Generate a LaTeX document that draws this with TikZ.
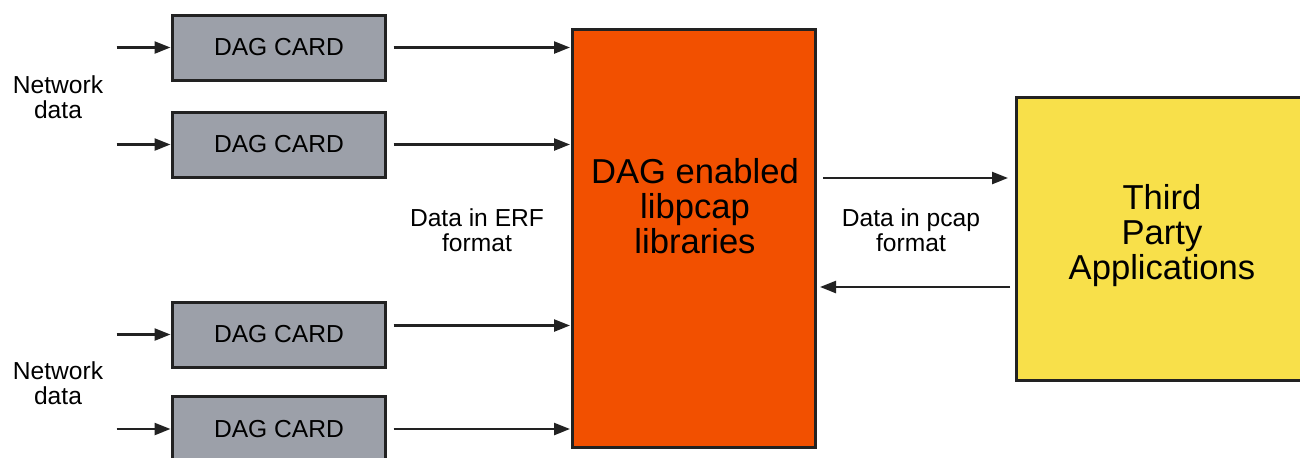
\documentclass[tikz,border=0pt]{standalone}
\usepackage{fontspec}
\setmainfont{Liberation Sans}
\usetikzlibrary{arrows.meta}
\definecolor{cardgray}{HTML}{9CA0A9}
\definecolor{liborange}{HTML}{F25000}
\definecolor{appyellow}{HTML}{F8E04A}
\definecolor{edge}{HTML}{222222}
\tikzset{
  card/.style={draw=edge, line width=1.5pt, fill=cardgray, minimum width=106.5pt, minimum height=32.5pt, inner sep=0pt, outer sep=0pt, font=\fontsize{12.3}{12.5}\selectfont},
  bigbox/.style={draw=edge, line width=1.5pt, inner sep=0pt, outer sep=0pt},
  small/.style={align=center, font=\fontsize{12.3}{12.5}\selectfont, inner sep=0pt},
  big/.style={align=center, font=\fontsize{17.3}{17.5}\selectfont, inner sep=0pt},
  arr/.style={line width=1.2pt, draw=edge, -{Triangle[length=8pt,width=6pt]}}
}
\begin{document}
\begin{tikzpicture}[x=0.5pt,y=-0.5pt]
\useasboundingbox (0,0) rectangle (1300,457);
% cards
\node[card] (c1) at (279,47.5) {DAG CARD};
\node[card] (c2) at (279,144.5) {DAG CARD};
\node[card] (c3) at (279,334.5) {DAG CARD};
\node[card] (c4) at (279,429) {DAG CARD};
% library box
\node[bigbox, fill=liborange, minimum width=121.5pt, minimum height=209pt] (lib) at (693.5,238) {};
\node[big] (libt) at (695,206) {DAG enabled\\libpcap\\libraries};
% applications box
\node[bigbox, fill=appyellow, minimum width=147pt, minimum height=141.5pt] (app) at (1163,238.5) {};
\node[big] (appt) at (1162,236) {Third\\Party\\Applications};
% labels
\node[small] (nd1) at (58,97) {Network\\data};
\node[small] (nd2) at (58,383) {Network\\data};
\node[small] (erf) at (477,230) {Data in ERF\\format};
\node[small] (pcap) at (911,230) {Data in pcap\\format};
% input arrows
\foreach \c in {c1,c2,c3,c4}{
  \draw[arr] ([xshift=-28pt]\c.west) -- ([xshift=-1pt]\c.west);
}
% card to library
\draw[arr] ([xshift=4pt]c1.east) -- ([xshift=-1pt]c1.east -| lib.west);
\draw[arr] ([xshift=4pt]c2.east) -- ([xshift=-1pt]c2.east -| lib.west);
\draw[arr] ([xshift=4pt,yshift=4.5pt]c3.east) -- ([xshift=-1pt,yshift=4.5pt]c3.east -| lib.west);
\draw[arr] ([xshift=4pt]c4.east) -- ([xshift=-1pt]c4.east -| lib.west);
% library <-> applications
\coordinate (o1) at ([xshift=4pt]lib.east |- 0,178);
\coordinate (i1) at ([xshift=-4pt]app.west |- 0,178);
\draw[arr] (o1) -- (i1);
\coordinate (o2) at ([xshift=-3pt]app.west |- 0,287);
\coordinate (i2) at ([xshift=2.5pt]lib.east |- 0,287);
\draw[arr] (o2) -- (i2);
\end{tikzpicture}
\end{document}
